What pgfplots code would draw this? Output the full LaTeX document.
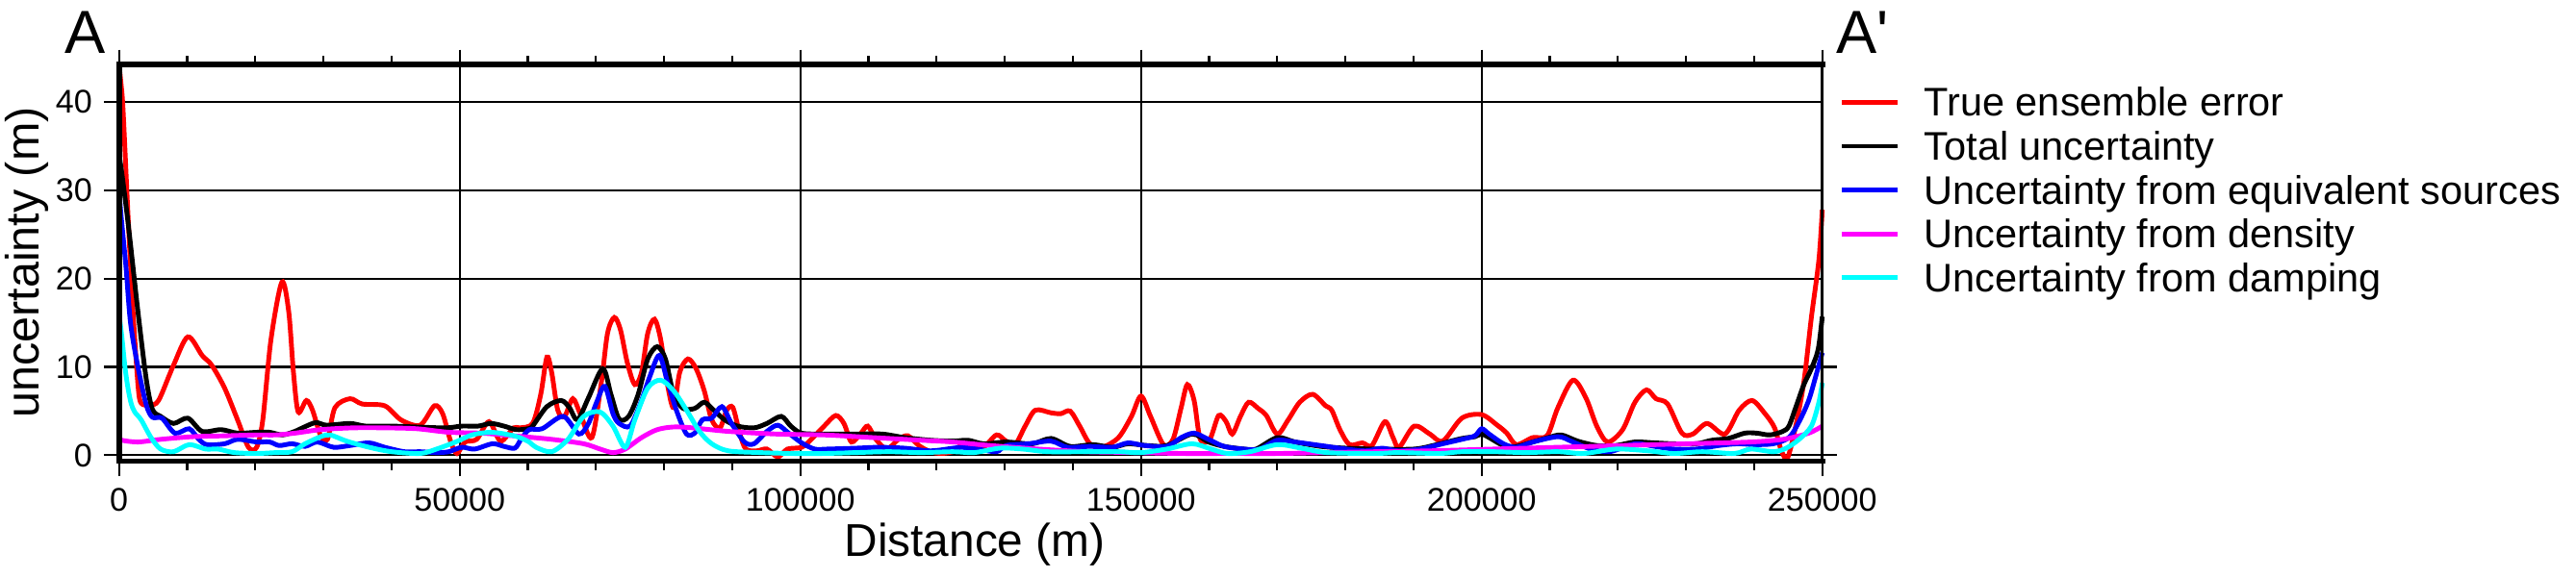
\documentclass[border=0pt]{standalone}
\usepackage{fontspec}
\setmainfont{Liberation Sans}
\newfontfamily\plainfont{Liberation Sans}[Ligatures=TeXOff]
\usepackage{pgfplots}
\pgfplotsset{compat=1.18}
\definecolor{gmtred}{RGB}{255,0,0}
\definecolor{gmtblue}{RGB}{0,0,255}
\definecolor{gmtmagenta}{RGB}{255,0,255}
\definecolor{gmtcyan}{RGB}{0,255,255}

\begin{document}
\begin{tikzpicture}
\useasboundingbox (0,0) rectangle (26.77,6);
\begin{axis}[
  name=ax,
  at={(1.237cm,1.205cm)}, anchor=south west,
  scale only axis, width=17.70cm, height=4.125cm,
  xmin=0, xmax=250000, ymin=-0.67, ymax=44.25,
  clip=false,
  xtick={0,50000,100000,150000,200000,250000},
  minor x tick num=4,
  ytick={0,10,20,30,40},
  scaled x ticks=false,
  /pgf/number format/fixed,
  /pgf/number format/precision=0,
  /pgf/number format/1000 sep={},
  /pgf/number format/assume math mode=true,
  tick label style={font=\fontsize{9.7}{11}\selectfont},
  xtick pos=both, xticklabel pos=lower, ytick pos=left,
  tick align=outside,
  major tick length=0.155cm, minor tick length=0.09cm,
  every tick/.style={black, line width=0.6pt},
  grid=major, major grid style={black, line width=0.6pt},
  axis line style={draw=none},
  legend style={at={(axis description cs:1.0102,0.9598)}, anchor=north west,
    draw=none, fill=none, inner sep=0pt, outer sep=0pt,
    font=\fontsize{11.8}{14}\selectfont, row sep=0pt, column sep=0.25cm,
    nodes={inner sep=0pt, text height=10.6pt, text depth=2.37pt}},
  legend cell align=left,
  legend image code/.code={\draw[#1] (0cm,0cm) -- (0.58cm,0cm);},
  every axis plot/.append style={line width=1.4pt, smooth, tension=0.5},
]
% true ensemble error
\addplot[gmtred] table {
x y
0 44.2
300 42
600 39
1360 26.5
2070 16.1
2800 7.8
3250 5.9
4500 5.7
5800 6.2
8000 10.2
10100 13.4
12200 11.3
13600 10.2
15500 7.6
17400 4.0
19000 0.9
20200 0.9
21100 4.0
22300 13.1
23900 19.6
24900 16.3
25600 9.4
26300 4.9
27500 6.2
28400 5.1
29600 2.2
30600 1.8
31700 5.4
33900 6.4
35700 5.8
39000 5.6
41400 4.0
44200 3.4
46300 5.6
47500 4.7
48700 1.5
49600 0.2
50800 1.5
52500 1.8
54300 3.8
56000 1.6
57900 3.1
58800 3.1
60700 3.6
61900 6.9
62800 11.1
63500 9.4
64400 5.1
65400 4.4
66600 6.4
67700 4.7
69400 2.0
70800 8.3
71700 13.8
72700 15.6
73600 14.2
74600 10.5
75700 8.0
76700 9.4
77600 13.8
78600 15.4
79500 13.1
80500 8.0
81400 5.4
82300 9.4
83500 10.9
84700 9.8
85900 7.3
87000 4.0
88200 3.1
89200 5.1
90100 5.4
91100 2.5
92000 0.7
93600 0.5
95100 0.7
96700 -0.2
98100 0.7
100200 0.9
101600 1.8
103500 3.3
105200 4.5
106400 3.6
107500 1.5
108900 2.5
109900 3.3
111100 1.8
112700 0.7
114400 1.8
115800 2.2
117400 1.1
119100 0.4
120800 0.2
122700 0.5
124000 1.5
125300 1.0
126900 0.9
128800 2.3
130200 1.6
131600 1.3
133000 3.3
134500 5.1
136800 4.8
138200 4.7
139600 5.0
141000 3.3
142500 1.3
144300 0.9
146700 2.0
148600 4.4
150000 6.7
151400 4.4
153300 1.2
154700 1.8
155900 5.4
156800 8.0
157800 6.2
158700 1.8
160100 1.8
161400 4.5
162500 3.8
163400 2.4
164600 4.4
165800 6.0
167200 5.3
168400 4.5
170000 2.4
171600 4.0
173300 6.0
175200 6.9
177100 5.6
178000 5.1
179200 2.9
180600 1.2
182500 1.4
183900 1.1
185800 3.8
187000 2.0
187900 0.9
190100 3.3
192400 2.4
194300 1.6
197100 4.2
200000 4.6
202300 3.4
203700 2.5
205100 1.2
207500 2.0
209600 2.2
211200 5.4
213400 8.5
215300 6.5
216900 3.3
218500 1.5
220700 2.9
222500 6.0
224200 7.4
225600 6.4
227300 5.8
229400 2.5
231000 2.4
233100 3.6
235700 2.4
237800 5.1
239700 6.2
241600 4.7
243000 3.1
244000 0.5
244900 -0.3
246100 3.3
247300 8.3
248400 15.6
249500 22.1
250000 27.8
};
\addlegendentry{True ensemble error}
% total uncertainty
\addplot[black] table {
x y
0 34
400 32
1360 26.1
2800 16.1
4000 8.6
4900 5.2
6100 4.4
8000 3.6
10100 4.2
12200 2.7
15000 2.9
17400 2.5
20200 2.6
22100 2.6
24000 2.3
25800 2.7
27200 3.2
28900 3.7
30500 3.4
33900 3.6
36200 3.3
40000 3.3
43700 3.2
48000 3.1
50300 3.3
52700 3.3
54600 3.6
56500 3.3
58300 2.9
60000 3.0
60700 3.3
62800 5.5
64900 6.2
66100 5.4
67300 4.0
68900 6.5
71000 9.8
72200 6.9
73400 4.1
74800 4.4
76200 6.9
77600 10.9
79000 12.3
80200 10.9
81400 6.9
82800 5.3
84500 5.3
85900 6.0
87300 5.1
88900 4.0
90800 3.3
93200 3.1
95100 3.6
97200 4.4
98600 3.3
100200 2.5
103500 2.4
108200 2.4
112000 2.4
115300 2.0
119100 1.7
122400 1.6
124600 1.7
126900 1.3
130200 1.5
134000 1.3
136800 1.9
139600 1.0
142900 1.2
145800 0.9
148100 1.3
150900 1.1
153800 1.1
157500 2.4
159900 1.5
162200 1.0
165100 0.7
166900 0.7
170000 2.0
172600 1.5
176400 1.0
180100 0.8
184400 0.7
190100 0.7
193400 1.2
197100 1.9
199000 2.1
200000 2.4
201100 2.0
203200 1.1
205100 1.0
207500 1.5
209800 2.0
211700 2.3
214100 1.6
216900 1.1
219700 1.1
222500 1.5
225400 1.4
228200 1.3
231500 1.3
233800 1.7
236200 1.9
238600 2.5
240400 2.5
242300 2.3
244200 2.7
245100 3.3
246100 5.4
247300 8.0
248400 9.8
249400 12.0
250000 15.7
};
\addlegendentry{Total uncertainty}
% uncertainty from equivalent sources
\addplot[gmtblue] table {
x y
0 31
200 28
1000 21.5
1700 14.9
2800 9.9
4000 5.7
4900 4.3
6300 4.2
8200 2.5
10300 3.0
11700 1.8
12900 1.2
15500 1.3
17400 1.8
20200 1.5
22100 1.5
23500 1.1
25400 1.3
27300 1.0
29100 1.5
31500 0.9
33900 1.1
36700 1.4
39000 0.9
41900 0.4
44200 0.4
46600 0.3
48400 0.4
50300 0.9
52200 0.7
54800 1.3
56500 1.0
58100 0.8
59000 1.8
60200 2.9
62100 3.0
65200 4.4
67500 2.4
68900 3.6
70100 6.0
71300 7.8
72500 4.7
73400 3.6
75000 3.3
76500 5.8
77900 8.9
79300 11.3
80500 8.3
81900 4.9
83300 2.4
84500 2.5
85600 4.0
87000 4.2
88500 5.5
89900 3.6
91800 1.5
93200 1.3
95100 2.7
96700 3.4
98300 2.5
100200 1.4
102100 0.7
104000 0.7
108200 0.8
111500 0.9
115300 0.8
119100 0.5
122400 0.8
123600 0.9
126000 0.7
128800 0.4
130200 1.1
133500 1.3
136800 1.6
139200 0.9
142500 1.0
145800 0.9
148100 1.4
150500 1.1
153800 1.0
155900 2.0
157800 2.5
159900 1.8
162200 1.0
165100 0.7
167400 0.7
170000 1.7
172600 1.5
176400 1.1
180100 0.7
183000 0.5
185400 0.8
187700 0.5
191000 0.7
194300 1.3
197100 1.8
199000 2.2
200000 3.0
201100 2.4
203200 1.3
205100 0.9
207500 1.5
211200 2.1
213100 1.6
216000 0.7
218800 0.4
222500 1.3
225400 1.0
228200 0.7
231500 0.7
234800 1.1
237600 1.3
240000 1.2
242800 1.3
245100 2.0
246600 3.8
248000 6.2
249100 9.1
250000 11.6
};
\addlegendentry{Uncertainty from equivalent sources}
% uncertainty from density
\addplot[gmtmagenta] table {
x y
0 2.0
400 1.7
2800 1.5
6100 1.8
10800 2.1
15500 2.2
20200 2.3
23000 2.3
25800 2.5
29600 2.9
34300 3.1
39000 3.1
43700 3.0
48400 2.6
53200 2.5
57900 2.2
63500 1.8
68200 1.3
70600 0.7
72500 0.3
74300 0.7
76700 2.0
79000 2.9
81400 3.2
84200 3.1
89400 2.7
96500 2.4
103500 2.3
110600 2.0
117700 1.7
122400 1.5
127900 1.1
134900 0.7
142000 0.4
149000 0.3
156100 0.2
163200 0.2
170200 0.2
177300 0.3
184400 0.4
192400 0.5
201800 0.7
211200 0.9
220700 1.1
230100 1.3
239500 1.5
244200 1.8
248000 2.5
250000 3.3
};
\addlegendentry{Uncertainty from density}
% uncertainty from damping
\addplot[gmtcyan] table {
x y
0 16.0
400 13.5
900 9.8
1360 7.4
1800 5.8
2300 4.9
3250 4.0
4700 2.0
6100 0.7
8000 0.4
10300 1.2
12700 0.7
14500 0.7
16900 0.3
20200 0.2
23000 0.3
25400 0.4
27300 1.3
29600 2.1
31000 2.3
33400 1.6
36700 0.9
40000 0.4
44200 0.2
46600 0.7
49400 1.5
51800 2.3
54600 2.6
57400 2.3
58800 2.0
60200 1.5
61200 0.9
63500 0.4
65900 1.8
68200 4.4
70600 4.9
72500 3.3
74300 0.9
75700 4.0
77600 7.6
79500 8.5
81400 7.3
83300 5.1
85200 2.7
87000 1.3
89400 0.5
94100 0.3
98800 0.2
103500 0.2
108200 0.3
113000 0.4
117700 0.3
122400 0.4
125500 0.3
129300 0.8
132600 0.7
136300 0.4
142000 0.4
146700 0.4
150000 0.3
153800 0.7
157500 1.3
160300 0.7
162700 0.2
166000 0.4
170000 1.2
173500 0.8
177300 0.3
184400 0.2
187700 0.3
193800 0.2
197100 0.4
201800 0.4
206500 0.3
211200 0.4
215000 0.2
219700 0.7
224400 0.5
228200 0.2
232400 0.4
237100 0.2
239500 0.7
242800 0.4
244700 0.8
246600 1.8
248400 3.3
249500 6.0
250000 8.2
};
\addlegendentry{Uncertainty from damping}
% frame and the two right-hand ticks left uncovered by the legend
\draw[line width=1.7pt, line cap=rect] (rel axis cs:0,0) -- (rel axis cs:1,0);
\draw[line width=1.7pt, line cap=rect] (rel axis cs:0,1) -- (rel axis cs:1,1);
\draw[line width=1.7pt, line cap=rect] (rel axis cs:0,0) -- (rel axis cs:0,1);
\draw[line width=0.8pt] (rel axis cs:1,0) -- (rel axis cs:1,1);
\draw[line width=0.6pt] (axis cs:250000,0) -- ([xshift=0.155cm]axis cs:250000,0);
\draw[line width=0.6pt] (axis cs:250000,10) -- ([xshift=0.155cm]axis cs:250000,10);
\end{axis}
\node[inner sep=0pt, anchor=base, font=\fontsize{13.6}{16}\selectfont] at (10.13,0.22) {Distance (m)};
\node[inner sep=0pt, anchor=center, rotate=90, font=\fontsize{13.8}{16}\selectfont] at (0.275,3.27) {uncertainty (m)};
\node[inner sep=0pt, anchor=base east, font=\fontsize{18}{20}\selectfont] at (1.10,5.445) {A};
\node[inner sep=0pt, anchor=base west, font=\fontsize{18}{20}\plainfont] at (19.08,5.445) {A'};
\end{tikzpicture}
\end{document}
